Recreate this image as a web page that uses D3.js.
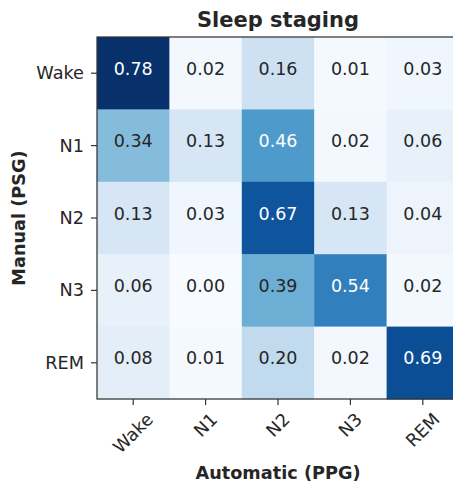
<!DOCTYPE html>
<html>
<head>
<meta charset="utf-8">
<script src="https://cdn.jsdelivr.net/npm/d3@7"></script>
<style>
  html, body { margin: 0; padding: 0; background: #fff; }
  svg { display: block; font-family: "DejaVu Sans", sans-serif; }
</style>
</head>
<body>
<svg id="chart" width="453" height="483"></svg>
<script>
// Sleep stages (rows: manual PSG scoring, columns: automatic PPG scoring)
const stages = ["Wake", "N1", "N2", "N3", "REM"];

// Row-normalised confusion matrix, one array per manual stage
const rowWake = [0.78, 0.02, 0.16, 0.01, 0.03];
const rowN1   = [0.34, 0.13, 0.46, 0.02, 0.06];
const rowN2   = [0.13, 0.03, 0.67, 0.13, 0.04];
const rowN3   = [0.06, 0.00, 0.39, 0.54, 0.02];
const rowREM  = [0.08, 0.01, 0.20, 0.02, 0.69];
const matrix = [rowWake, rowN1, rowN2, rowN3, rowREM];

const svg = d3.select("#chart");
const ink = "#262626";
const tickFont = 17.7;
const cellFont = 17.5;

const plot = { left: 97, top: 37, size: 362 };

const x = d3.scaleBand().domain(stages).range([plot.left, plot.left + plot.size]);
const y = d3.scaleBand().domain(stages).range([plot.top, plot.top + plot.size]);

const vmax = d3.max(matrix.flat());
const color = d3.scaleSequential(d3.interpolateBlues).domain([0, vmax]);

const cells = [];
matrix.forEach((row, i) => row.forEach((v, j) => cells.push({ r: stages[i], c: stages[j], v })));

// Heatmap cells
svg.append("g").selectAll("rect").data(cells).join("rect")
  .attr("x", d => x(d.c))
  .attr("y", d => y(d.r))
  .attr("width", x.bandwidth() + 0.5)
  .attr("height", y.bandwidth() + 0.5)
  .attr("fill", d => color(d.v));

// Value annotations
svg.append("g").selectAll("text").data(cells).join("text")
  .attr("x", d => x(d.c) + x.bandwidth() / 2)
  .attr("y", d => y(d.r) + y.bandwidth() / 2 + 1.5)
  .attr("text-anchor", "middle")
  .attr("font-size", cellFont)
  .attr("fill", d => d.v > vmax / 2 ? "#ffffff" : ink)
  .text(d => d.v.toFixed(2));

// Axes
const yAxis = d3.axisLeft(y).tickSize(6).tickPadding(7);
const gy = svg.append("g").attr("transform", `translate(${plot.left},0)`).call(yAxis);
const xAxis = d3.axisBottom(x).tickSize(6).tickFormat("");
const gx = svg.append("g").attr("transform", `translate(0,${plot.top + plot.size})`).call(xAxis);

[gx, gy].forEach(g => {
  g.attr("font-family", null).attr("font-size", null);
  g.select(".domain").remove();
  g.selectAll(".tick line").attr("stroke", "#333").attr("stroke-width", 1.2);
});
gy.selectAll(".tick text")
  .attr("font-size", tickFont)
  .attr("fill", ink)
  .attr("dy", null)
  .attr("dominant-baseline", "central");

// Rotated column labels, bounding box centred under each tick
const labelTop = plot.top + plot.size + 12;
const s45 = Math.SQRT1_2;
const xl = svg.append("g").selectAll("text").data(stages).join("text")
  .attr("font-size", tickFont)
  .attr("fill", ink)
  .attr("text-anchor", "middle")
  .attr("dominant-baseline", "central")
  .text(d => d);
xl.each(function(d) {
  const w = this.getComputedTextLength();
  const h = (w + tickFont * 0.85) * s45;
  const cx = x(d) + x.bandwidth() / 2;
  const cy = labelTop + h / 2;
  d3.select(this).attr("transform", `translate(${cx},${cy}) rotate(-45)`);
});

// Frame
svg.append("rect")
  .attr("x", plot.left).attr("y", plot.top)
  .attr("width", plot.size).attr("height", plot.size)
  .attr("fill", "none").attr("stroke", "#333").attr("stroke-width", 1.25);

// Title and axis titles
svg.append("text")
  .attr("x", plot.left + plot.size / 2).attr("y", 27)
  .attr("text-anchor", "middle").attr("font-size", 21).attr("font-weight", "bold")
  .attr("fill", ink).text("Sleep staging");

svg.append("text")
  .attr("x", plot.left + plot.size / 2).attr("y", 479)
  .attr("text-anchor", "middle").attr("font-size", 17.7).attr("font-weight", "bold")
  .attr("fill", ink).text("Automatic (PPG)");

svg.append("text")
  .attr("transform", `translate(25,${plot.top + plot.size / 2}) rotate(-90)`)
  .attr("text-anchor", "middle").attr("font-size", 17.7).attr("font-weight", "bold")
  .attr("fill", ink).text("Manual (PSG)");
</script>
</body>
</html>
